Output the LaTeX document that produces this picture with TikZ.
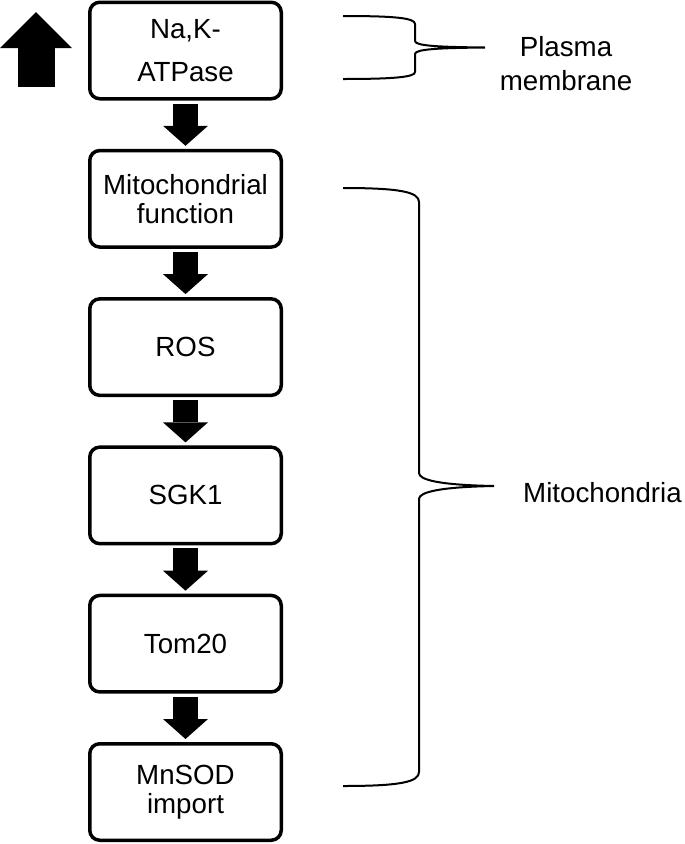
\documentclass[tikz,border=0pt]{standalone}
\usepackage{fontspec}
\setmainfont{Liberation Sans}
\usetikzlibrary{positioning,arrows.meta}
\tikzset{
  box/.style={draw,line width=3.5pt,rounded corners=10pt,minimum width=191.5pt,minimum height=96.5pt,
    align=center,inner sep=0pt,font=\fontsize{27.7}{29}\selectfont},
  flow/.style={line width=25pt,-{Triangle[width=45pt,length=20pt,line width=0pt]},
    shorten <=3pt,shorten >=3pt},
  bracket/.style={line width=2pt},
  tag/.style={inner sep=0pt,align=center}
}

\begin{document}
\begin{tikzpicture}[x=1pt,y=-1pt]
        \useasboundingbox (0,0) rectangle (685,844);

        \node[box] (atp) at (185.5,50.5) {Na,K-\\[14pt]ATPase};
        \node[box,below=48.3pt of atp] (mito) {Mitochondrial\\function};
        \node[box,below=48.3pt of mito] (ros) {ROS};
        \node[box,below=48.3pt of ros] (sgk) {SGK1};
        \node[box,below=48.3pt of sgk] (tom) {Tom20};
        \node[box,below=48.3pt of tom] (mnsod) {MnSOD\\import};

        \foreach \p/\q in {atp/mito,mito/ros,ros/sgk,sgk/tom,tom/mnsod}
            \draw[flow] (\p) -- (\q);

        \draw[line width=37pt,-{Triangle[width=72pt,length=36pt,line width=0pt]}] (36,87) -- (36,12);

        \node[tag,font=\fontsize{27.7}{34}\selectfont] (pm) at (566,64) {Plasma\\membrane};
        \node[tag,font=\fontsize{27.7}{34}\selectfont] (mc) at (602.5,493) {Mitochondria};

        \draw[bracket] (343,16) .. controls (395,16) and (415,18) .. (415,24) -- (415,41)
            .. controls (415,46) and (440,47) .. (485,47.5)
            .. controls (440,48) and (415,49) .. (415,54) -- (415,72)
            .. controls (415,77) and (395,79) .. (343,79);
        \draw[bracket] (343,188) .. controls (400,188) and (419,192) .. (419,202) -- (419,473)
            .. controls (419,480) and (440,485) .. (494,486)
            .. controls (440,487) and (419,492) .. (419,499) -- (419,772)
            .. controls (419,782) and (400,786) .. (343,786);
\end{tikzpicture}
\end{document}
